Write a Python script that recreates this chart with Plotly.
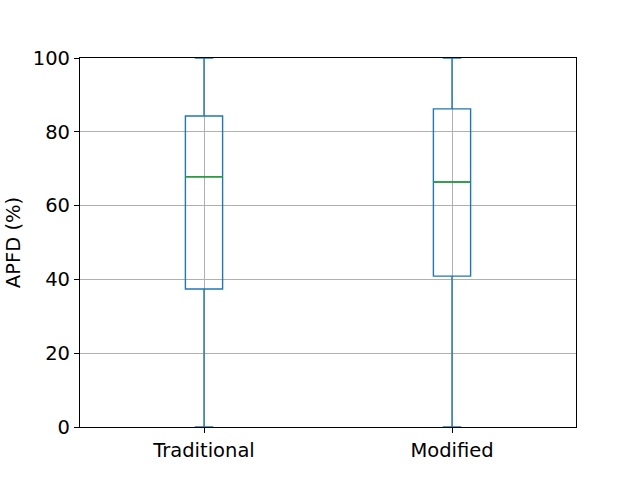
import plotly.graph_objects as go

categories = ["Traditional", "Modified"]
positions = [1, 2]
q1 = [37.4, 40.9]
median = [67.8, 66.4]
q3 = [84.3, 86.2]
lower = [0.0, 0.0]
upper = [100.0, 100.0]
yticks = [0, 20, 40, 60, 80, 100]

BLUE = "#1f77b4"
GREEN = "#2ca02c"
BOXW = 0.15

fig = go.Figure()
for i, cat in enumerate(categories):
    fig.add_trace(go.Box(
        x=[positions[i]], q1=[q1[i]], median=[median[i]], q3=[q3[i]],
        lowerfence=[lower[i]], upperfence=[upper[i]],
        width=BOXW, whiskerwidth=0.5,
        line=dict(color=BLUE, width=1.4), fillcolor="rgba(0,0,0,0)",
        boxpoints=False, name=cat, showlegend=False, hoverinfo="skip",
    ))
    fig.add_trace(go.Scatter(
        x=[positions[i] - BOXW / 2, positions[i] + BOXW / 2],
        y=[median[i], median[i]], mode="lines",
        line=dict(color=GREEN, width=1.4), showlegend=False, hoverinfo="skip",
    ))

axis_common = dict(
    showline=True, linecolor="black", linewidth=1.2, mirror=True,
    ticks="outside", ticklen=5, tickcolor="black",
    showgrid=True, gridcolor="#b0b0b0", gridwidth=1, zeroline=False,
    tickfont=dict(family="DejaVu Sans", size=19.5, color="black"),
)
fig.update_layout(
    width=640, height=480,
    margin=dict(l=80, r=64, t=58, b=53),
    paper_bgcolor="white", plot_bgcolor="white",
    font=dict(family="DejaVu Sans", size=19.5, color="black"),
    xaxis=dict(range=[0.5, 2.5], tickvals=positions, ticktext=categories, **axis_common),
    yaxis=dict(range=[0, 100], tickvals=yticks,
               title=dict(text="APFD (%)", font=dict(family="DejaVu Sans", size=19.5), standoff=6),
               **axis_common),
)
fig.write_html("out.html")
